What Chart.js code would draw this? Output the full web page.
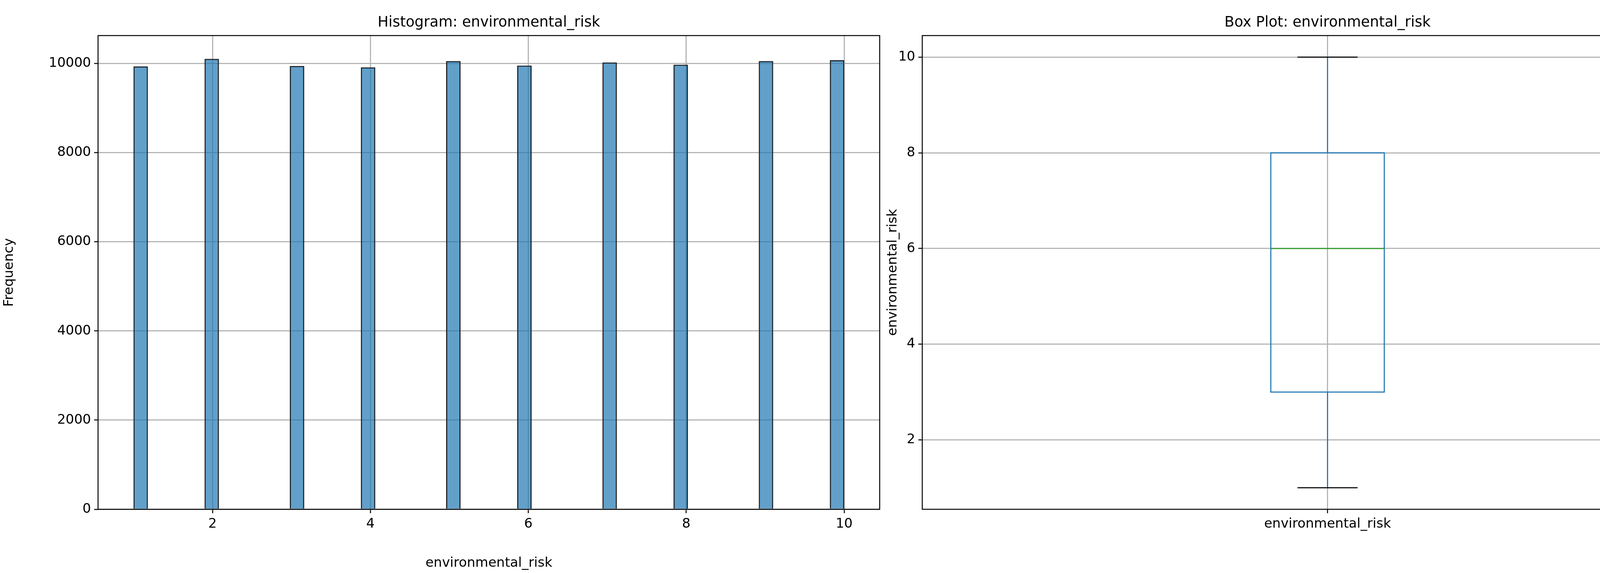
<!DOCTYPE html>
<html><head>
<script src="https://cdn.jsdelivr.net/npm/chart.js@4"></script>
<style>body{margin:0;background:#fff;width:4470px;height:1466px;position:relative;overflow:hidden}
.p{position:absolute;top:0;height:1466px}</style></head>
<body>
<div class="p" style="left:0;width:2262px"><canvas id="c1"></canvas></div>
<div class="p" style="left:2262px;width:2208px"><canvas id="c2"></canvas></div>
<script>
const riskLevels = [1,2,3,4,5,6,7,8,9,10];
const counts = [9930,10100,9940,9910,10050,9950,10020,9970,10050,10070];
const nBins = 50, binMin = 1, binMax = 10;
const boxStats = {min:1, q1:3, median:6, q3:8, max:10};
const boxLabel = 'environmental_risk';

const bw = (binMax-binMin)/nBins;
const bins = Array.from({length:nBins},(_,k)=>({x:binMin+bw*(k+0.5),y:0}));
riskLevels.forEach((v,i)=>{let k=Math.min(nBins-1,Math.floor((v-binMin)/bw+1e-9));bins[k].y+=counts[i];});

const F='DejaVu Sans';
Chart.defaults.font.family=F;Chart.defaults.font.size=34;Chart.defaults.color='#000';
Chart.defaults.devicePixelRatio=1;Chart.defaults.animation=false;Chart.defaults.responsive=true;Chart.defaults.maintainAspectRatio=false;
const frame={id:'frame',afterDraw(c){const a=c.chartArea,x=c.ctx;x.save();x.strokeStyle='#000';x.lineWidth=2.5;x.strokeRect(a.left,a.top,a.right-a.left,a.bottom-a.top);
x.font='37px '+F;x.fillStyle='#000';x.textAlign='center';x.textBaseline='bottom';x.fillText(c.options.plugins.ttl,(a.left+a.right)/2,a.top-14);x.restore();}};
const grid={color:'#b0b0b0',lineWidth:2.8,tickLength:10,tickColor:'#000',tickWidth:2.5,offset:false};

new Chart(document.getElementById('c1'),{type:'bar',
data:{datasets:[{data:bins,backgroundColor:'rgba(31,119,180,0.7)',borderColor:'#222',borderWidth:2.5,barPercentage:1,categoryPercentage:1,grouped:false}]},
options:{layout:{padding:{top:91,right:10}},plugins:{legend:{display:false},tooltip:{enabled:false},ttl:'Histogram: environmental_risk'},
scales:{x:{type:'linear',offset:false,min:0.55,max:10.45,afterBuildTicks(s){s.ticks=[2,4,6,8,10].map(v=>({value:v}));},grid:grid,border:{display:false},
 ticks:{padding:8},title:{display:true,text:'environmental_risk',padding:{top:6}},afterFit(s){s.height=163;}},
 y:{min:0,max:10625,afterBuildTicks(s){s.ticks=[0,2000,4000,6000,8000,10000].map(v=>({value:v}));},grid:grid,border:{display:false},ticks:{padding:8,callback:v=>String(v)},
 title:{display:true,text:'Frequency',padding:{bottom:14}},afterFit(s){s.width=251;}}}},plugins:[frame]});

const boxPlugin={id:'box',beforeDatasetsDraw(c){const x=c.scales.x,y=c.scales.y,ctx=c.ctx;ctx.save();
const cx=x.getPixelForValue(1),hw=(x.getPixelForValue(1.5)-cx)*0.14,cw=hw*0.53;
ctx.lineWidth=2.8;ctx.strokeStyle='#1f77b4';
const Y=v=>y.getPixelForValue(v);
ctx.strokeRect(cx-hw,Y(boxStats.q3),2*hw,Y(boxStats.q1)-Y(boxStats.q3));
ctx.beginPath();ctx.moveTo(cx,Y(boxStats.q3));ctx.lineTo(cx,Y(boxStats.max));ctx.moveTo(cx,Y(boxStats.q1));ctx.lineTo(cx,Y(boxStats.min));ctx.stroke();
ctx.strokeStyle='#000';ctx.beginPath();ctx.moveTo(cx-cw,Y(boxStats.max));ctx.lineTo(cx+cw,Y(boxStats.max));ctx.moveTo(cx-cw,Y(boxStats.min));ctx.lineTo(cx+cw,Y(boxStats.min));ctx.stroke();
ctx.strokeStyle='#2ca02c';ctx.beginPath();ctx.moveTo(cx-hw,Y(boxStats.median));ctx.lineTo(cx+hw,Y(boxStats.median));ctx.stroke();ctx.restore();}};

new Chart(document.getElementById('c2'),{type:'scatter',
data:{datasets:[{data:[],pointRadius:0}]},
options:{layout:{padding:{top:91,right:34}},plugins:{legend:{display:false},tooltip:{enabled:false},ttl:'Box Plot: environmental_risk'},
scales:{x:{type:'linear',min:0.5,max:1.5,afterBuildTicks(s){s.ticks=[{value:1}];},grid:grid,border:{display:false},
 ticks:{padding:8,callback:()=>boxLabel},afterFit(s){s.height=163;}},
 y:{min:0.55,max:10.45,afterBuildTicks(s){s.ticks=[2,4,6,8,10].map(v=>({value:v}));},grid:grid,border:{display:false},ticks:{padding:8},
 title:{display:true,text:'environmental_risk',padding:{bottom:4}},afterFit(s){s.width=99;}}}},plugins:[boxPlugin,frame]});
</script></body></html>
